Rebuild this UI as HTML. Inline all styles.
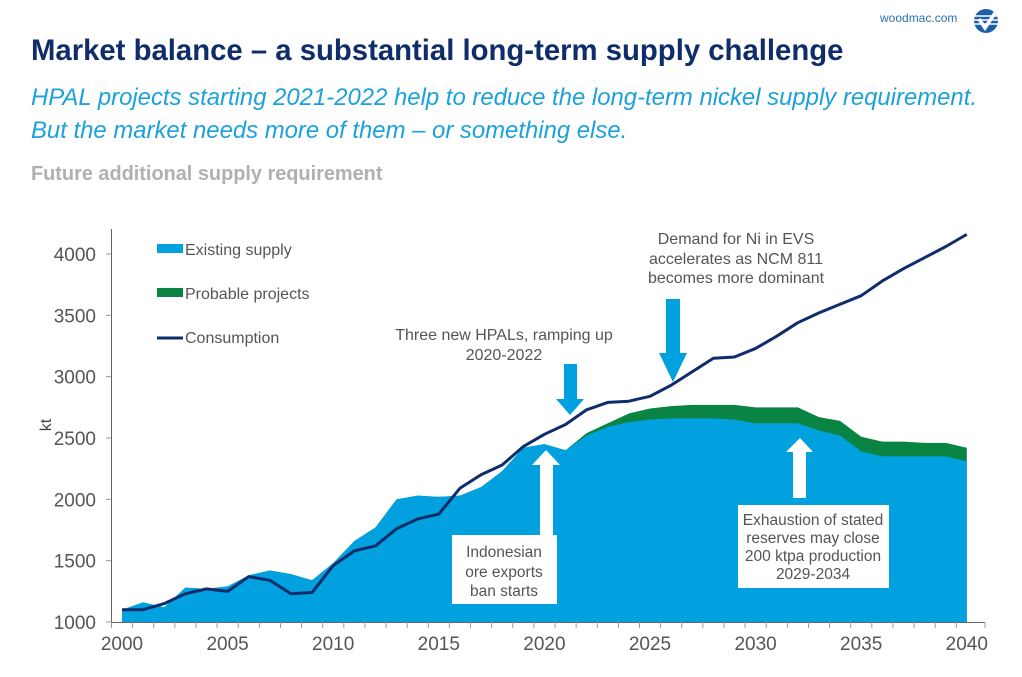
<!DOCTYPE html>
<html><head><meta charset="utf-8"><style>
body{margin:0;background:#fff;width:1022px;height:677px;overflow:hidden;font-family:"Liberation Sans",Arial,sans-serif;position:relative}
.a{position:absolute;white-space:nowrap}
</style></head><body>
<div class="a" style="left:880px;top:11px;font-size:12px;color:#2a6fb5">woodmac.com</div>
<svg class="a" style="left:973px;top:8px" width="26" height="26" viewBox="0 0 26 26"><circle cx="13" cy="13" r="12" fill="#1a5fa8"/><g stroke="#fff" stroke-width="1.5"><line x1="1" y1="8" x2="25" y2="8"/><line x1="1" y1="12" x2="25" y2="12"/><line x1="1" y1="16" x2="25" y2="16"/></g><path d="M6 11 L12 20 L22 5" stroke="#fff" stroke-width="3.5" fill="none"/></svg>
<div class="a" style="left:31px;top:34px;font-size:29.3px;font-weight:bold;color:#0f2d6b">Market balance – a substantial long-term supply challenge</div>
<div class="a" style="left:31px;top:81px;font-size:23.9px;font-style:italic;color:#1ba1dc;line-height:33px">HPAL projects starting 2021-2022 help to reduce the long-term nickel supply requirement.<br>But the market needs more of them – or something else.</div>
<div class="a" style="left:31px;top:163px;font-size:19.9px;font-weight:bold;color:#b0b0b0">Future additional supply requirement</div>
<svg id="chart" class="a" style="left:0;top:0" width="1022" height="677"></svg>
<script>
const years=[];for(let y=2000;y<=2040;y++)years.push(y);
const existing=[1100,1160,1120,1280,1270,1290,1380,1420,1390,1340,1480,1660,1770,2000,2030,2020,2030,2100,2230,2420,2450,2400,2520,2590,2630,2650,2660,2660,2660,2650,2620,2620,2620,2560,2520,2390,2350,2350,2350,2350,2310];
const probable=[0,0,0,0,0,0,0,0,0,0,0,0,0,0,0,0,0,0,0,0,0,0,20,30,70,90,100,110,110,120,130,130,130,110,120,120,120,120,110,110,110];
const consumption=[1100,1100,1150,1230,1270,1250,1370,1340,1230,1240,1460,1580,1620,1760,1840,1880,2090,2200,2280,2430,2530,2610,2730,2790,2800,2840,2930,3040,3150,3160,3230,3330,3440,3520,3590,3660,3780,3880,3970,4060,4160];
const yTicks=[1000,1500,2000,2500,3000,3500,4000];
const xLabels=[2000,2005,2010,2015,2020,2025,2030,2035,2040];
const NS='http://www.w3.org/2000/svg';
const svg=document.getElementById('chart');
const X=y=>122+(y-2000)*21.12;
const Y=v=>622-(v-1000)*0.12267;
function el(t,a,p){const e=document.createElementNS(NS,t);for(const k in a)e.setAttribute(k,a[k]);(p||svg).appendChild(e);return e;}
let tot=existing.map((v,i)=>v+probable[i]);
let d='M'+X(2000)+','+Y(1000);years.forEach((y,i)=>d+=' L'+X(y)+','+Y(tot[i]));d+=' L'+X(2040)+','+Y(1000)+'Z';
const pa=el('path',{d:d,fill:'#0a8443'});


d='M'+X(2000)+','+Y(1000);years.forEach((y,i)=>d+=' L'+X(y)+','+Y(existing[i]));d+=' L'+X(2040)+','+Y(1000)+'Z';
const ea=el('path',{d:d,fill:'#00a1de'});


const cl=el('polyline',{points:years.map((y,i)=>X(y)+','+Y(consumption[i])).join(' '),fill:'none',stroke:'#0f2d6b','stroke-width':3,'stroke-linejoin':'round'});


el('line',{x1:111.5,y1:229,x2:111.5,y2:622,stroke:'#666','stroke-width':1});
el('line',{x1:111,y1:622.5,x2:985,y2:622.5,stroke:'#666','stroke-width':1});
yTicks.forEach(v=>{el('line',{x1:106,x2:111,y1:Y(v),y2:Y(v),stroke:'#999'});
const t=el('text',{x:96,y:Y(v)+7,'text-anchor':'end','font-size':19,fill:'#555'});t.textContent=v;

});
years.forEach(y=>el('line',{x1:X(y)-10.5,x2:X(y)-10.5,y1:622,y2:628,stroke:'#999'}));
el('line',{x1:985,x2:985,y1:622,y2:628,stroke:'#999'});
xLabels.forEach(y=>{const t=el('text',{x:X(y),y:650,'text-anchor':'middle','font-size':19,fill:'#555'});t.textContent=y;

});
const yt=el('text',{transform:'translate(51,425) rotate(-90)','text-anchor':'middle','font-size':16,fill:'#444'});yt.textContent='kt';


</script>
<svg class="a" style="left:0;top:0" width="1022" height="677">
<g font-family="Liberation Sans,Arial,sans-serif" font-size="16" fill="#555">
<rect x="157" y="244" width="26" height="9" fill="#00a1de"/><text x="185" y="255">Existing supply</text>
<rect x="157" y="288" width="26" height="9" fill="#0a8443"/><text x="185" y="299">Probable projects</text>
<line x1="157" y1="338" x2="183" y2="338" stroke="#0f2d6b" stroke-width="3"/><text x="185" y="343">Consumption</text>
<text x="504" y="340" text-anchor="middle">Three new HPALs, ramping up</text>
<text x="504" y="360" text-anchor="middle">2020-2022</text>
<text x="736" y="244" text-anchor="middle">Demand for Ni in EVS</text>
<text x="736" y="264" text-anchor="middle">accelerates as NCM 811</text>
<text x="736" y="283" text-anchor="middle">becomes more dominant</text>
</g>
<polygon points="564,364 577,364 577,399 584,399 570,415 556,399 564,399" fill="#00a1de"/>
<polygon points="666,299 680,299 680,353 687,353 673,382 659,353 666,353" fill="#00a1de"/>
<polygon points="540,535 553,535 553,465 560,465 546,450 532,465 540,465" fill="#fff"/>
<polygon points="793,498 806,498 806,452 813,452 800,438 786,452 793,452" fill="#fff"/>
<rect x="452" y="535" width="105" height="69" fill="#fff"/>
<rect x="738" y="505" width="151" height="83" fill="#fff"/>
<g font-family="Liberation Sans,Arial,sans-serif" font-size="15.5" fill="#555" text-anchor="middle">
<text x="504" y="557">Indonesian</text><text x="504" y="577">ore exports</text><text x="504" y="596">ban starts</text>
<text x="813" y="525">Exhaustion of stated</text><text x="813" y="543">reserves may close</text><text x="813" y="561">200 ktpa production</text><text x="813" y="579">2029-2034</text>
</g>
</svg>
</body></html>
